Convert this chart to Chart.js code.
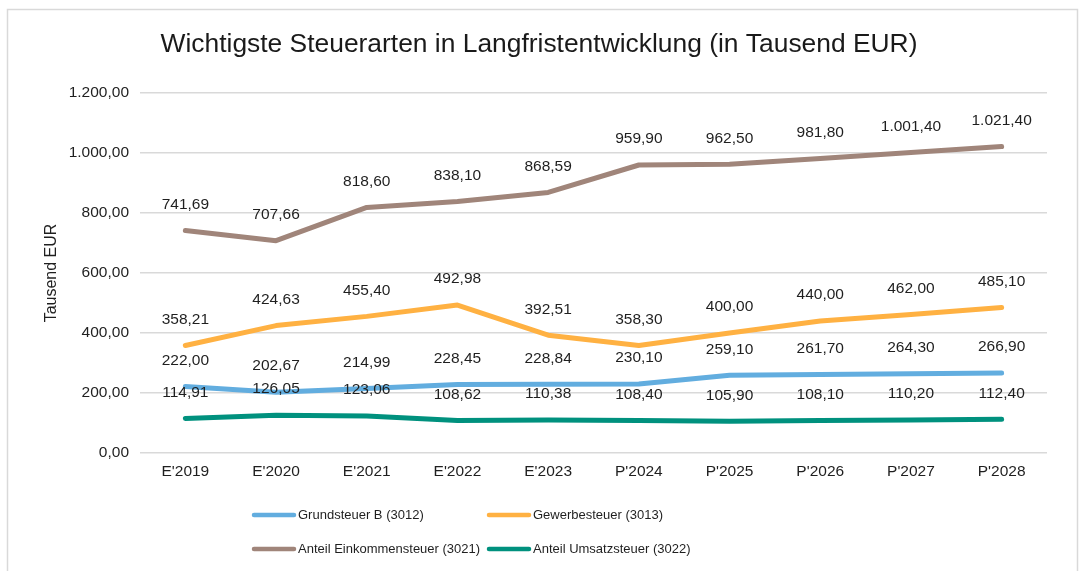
<!DOCTYPE html>
<html>
<head>
<meta charset="utf-8">
<script src="https://cdn.jsdelivr.net/npm/chart.js@4.4.1/dist/chart.umd.min.js"></script>
<style>
html,body{margin:0;padding:0;background:#fff;}
#wrap{position:absolute;left:0;top:0;width:1081px;height:571px;}
</style>
</head>
<body>
<div id="wrap"><canvas id="c" width="1081" height="571"></canvas></div>
<script>
const categories = ["E'2019","E'2020","E'2021","E'2022","E'2023","P'2024","P'2025","P'2026","P'2027","P'2028"];
const grundsteuerB = [222.00, 202.67, 214.99, 228.45, 228.84, 230.10, 259.10, 261.70, 264.30, 266.90];
const gewerbesteuer = [358.21, 424.63, 455.40, 492.98, 392.51, 358.30, 400.00, 440.00, 462.00, 485.10];
const einkommensteuer = [741.69, 707.66, 818.60, 838.10, 868.59, 959.90, 962.50, 981.80, 1001.40, 1021.40];
const umsatzsteuer = [114.91, 126.05, 123.06, 108.62, 110.38, 108.40, 105.90, 108.10, 110.20, 112.40];
const seriesNames = ["Grundsteuer B (3012)", "Gewerbesteuer (3013)", "Anteil Einkommensteuer (3021)", "Anteil Umsatzsteuer (3022)"];
const seriesColors = ["#62ADDF", "#FFB142", "#A0857A", "#00917E"];
const yTicks = {min: 0, max: 1200, step: 200};
const titleText = "Wichtigste Steuerarten in Langfristentwicklung (in Tausend EUR)";
const yTitle = "Tausend EUR";

const FONT = "'Liberation Sans', Arial, sans-serif";

function fmtDE(v) {
  const neg = v < 0;
  v = Math.abs(v);
  const fixed = v.toFixed(2);
  let [ip, dp] = fixed.split('.');
  ip = ip.replace(/\B(?=(\d{3})+(?!\d))/g, '.');
  return (neg ? '-' : '') + ip + ',' + dp;
}

const frame = {
  id: 'frame',
  beforeDraw(chart) {
    const ctx = chart.ctx;
    ctx.save();
    ctx.fillStyle = '#fff';
    ctx.fillRect(0, 0, chart.width, chart.height);
    ctx.strokeStyle = '#d9d9d9';
    ctx.lineWidth = 1.5;
    ctx.strokeRect(7.5, 9.5, 1070, 620);
    ctx.restore();
  }
};

const dataLabels = {
  id: 'dataLabels',
  afterDatasetsDraw(chart) {
    const ctx = chart.ctx;
    ctx.save();
    ctx.font = '15.5px ' + FONT;
    ctx.fillStyle = '#1f1f1f';
    ctx.textAlign = 'center';
    ctx.textBaseline = 'middle';
    chart.data.datasets.forEach((ds, i) => {
      const meta = chart.getDatasetMeta(i);
      meta.data.forEach((pt, j) => {
        ctx.fillText(fmtDE(ds.data[j]), pt.x, pt.y - 26);
      });
    });
    ctx.restore();
  }
};

const customLegend = {
  id: 'customLegend',
  afterDraw(chart) {
    const ctx = chart.ctx;
    ctx.save();
    ctx.font = '13px ' + FONT;
    ctx.fillStyle = '#1f1f1f';
    ctx.textBaseline = 'middle';
    ctx.textAlign = 'left';
    const cols = [252, 487];
    const rows = [515, 549];
    chart.data.datasets.forEach((ds, i) => {
      const x = cols[i % 2], y = rows[Math.floor(i / 2)];
      ctx.strokeStyle = ds.borderColor;
      ctx.lineWidth = 4.5;
      ctx.lineCap = 'round';
      ctx.beginPath();
      ctx.moveTo(x + 2, y);
      ctx.lineTo(x + 42, y);
      ctx.stroke();
      ctx.fillText(ds.label, x + 46, y);
    });
    ctx.restore();
  }
};

const datasets = [grundsteuerB, gewerbesteuer, einkommensteuer, umsatzsteuer].map((arr, i) => ({
  label: seriesNames[i],
  data: arr,
  borderColor: seriesColors[i],
  backgroundColor: seriesColors[i],
  borderWidth: 5,
  pointRadius: 0,
  pointHoverRadius: 0,
  tension: 0,
  borderCapStyle: 'round',
  borderJoinStyle: 'round',
  fill: false
}));

new Chart(document.getElementById('c'), {
  type: 'line',
  data: { labels: categories, datasets },
  plugins: [frame, dataLabels, customLegend],
  options: {
    responsive: false,
    animation: false,
    events: [],
    layout: { padding: { top: 0, left: 31, right: 34, bottom: 88 } },
    plugins: {
      legend: { display: false },
      tooltip: { enabled: false },
      title: {
        display: true,
        text: titleText,
        color: '#1a1a1a',
        font: { family: FONT, size: 26.4, weight: 'normal', lineHeight: 1.2 },
        padding: { top: 29, bottom: 32.3 }
      }
    },
    scales: {
      x: {
        offset: true,
        grid: { display: false, drawTicks: false },
        border: { display: false },
        ticks: { color: '#1f1f1f', font: { family: FONT, size: 15.5 }, padding: 9, maxRotation: 0, autoSkip: false },
        afterFit(s) { s.height = 30; }
      },
      y: {
        min: yTicks.min,
        max: yTicks.max,
        grid: { color: '#d9d9d9', lineWidth: 1.5, drawTicks: false },
        border: { display: false },
        ticks: {
          stepSize: yTicks.step,
          color: '#1f1f1f',
          font: { family: FONT, size: 15.5 },
          padding: 11,
          callback: (v) => fmtDE(v)
        },
        title: {
          display: true,
          text: yTitle,
          color: '#1f1f1f',
          font: { family: FONT, size: 16, lineHeight: 1.2 },
          padding: { top: 11.4, bottom: 0 }
        },
        afterFit(s) { s.width = 109; }
      }
    }
  }
});
</script>
</body>
</html>
